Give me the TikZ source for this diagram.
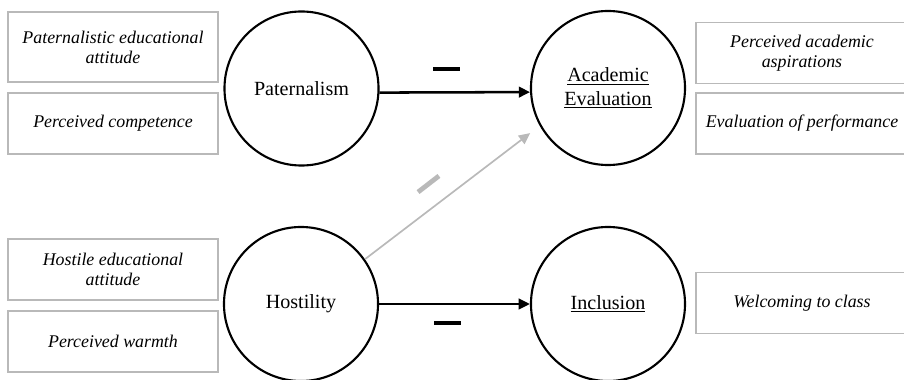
\documentclass[tikz,border=0pt]{standalone}
\usepackage{fontspec}
\setmainfont{Liberation Serif}
\usetikzlibrary{arrows.meta}

\begin{document}
\begin{tikzpicture}[x=0.025cm,y=-0.025cm]
        \tikzset{
          factor/.style={circle, draw, line width=1.5pt, minimum size=3.85cm,
            inner sep=0pt, align=center, font=\fontsize{14.3}{16.4}\selectfont},
          item/.style={draw=gray!55, line width=0.8pt, minimum width=5.25cm,
            minimum height=1.525cm, inner sep=0pt, align=center,
            font=\fontsize{12.7}{14.2}\selectfont\itshape},
          effect/.style={-{Triangle[length=8pt,width=7.5pt]}, line width=1.8pt},
          weak/.style={effect, draw=gray!55, line width=1.2pt},
          negsign/.style={fill, minimum width=0.675cm, minimum height=0.12cm, inner sep=0pt}
        }
        \useasboundingbox (0,0) rectangle (904,380);
        \node[item, minimum height=1.75cm] (patatt) at (113,47) {Paternalistic educational\\attitude};
        \node[item] (comp) at (113,123.5) {Perceived competence};
        \node[item] (hostatt) at (113,269.5) {Hostile educational\\attitude};
        \node[item] (warm) at (113,341.5) {Perceived warmth};
        \node[factor] (pat) at (301.5,88.5) {Paternalism};
        \node[factor] (host) at (301,304) {Hostility};
        \node[factor] (acad) at (608,88) {\underline{Academic}\\\underline{Evaluation}};
        \node[factor] (incl) at (608,304) {\underline{Inclusion}};
        \node[item, minimum width=5.3cm] (aspir) at (802,53) {Perceived academic\\aspirations};
        \node[item, minimum width=5.3cm] (perf) at (802,123.5) {Evaluation of performance};
        \node[item, minimum width=5.3cm] (welc) at (802,303) {Welcoming to class};
        \draw[effect] (pat.-3.7) -- (acad.183.7);
        \draw[effect] (host.east) -- (incl.west);
        \draw[weak, shorten >=3mm] (host.35) -- (acad.209);
        \node[negsign] (negpat) at (446.5,69) {};
        \node[negsign] (negincl) at (447.5,323) {};
        \node[negsign, gray!55, rotate=37.7, minimum width=0.66cm] (negacad) at (428.5,184) {};
    \end{tikzpicture}
\end{document}
